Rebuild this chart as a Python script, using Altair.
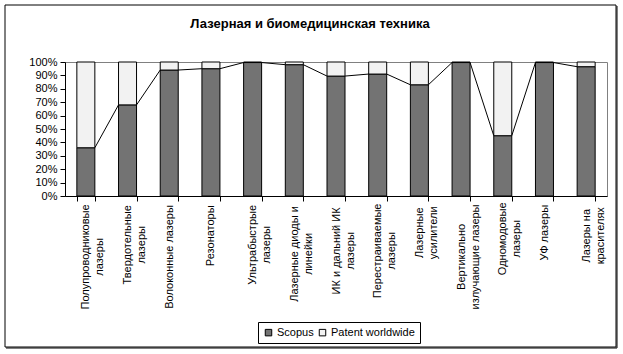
import altair as alt
import pandas as pd

# ---------------- data ----------------
categories = [
    "Полупроводниковые|лазеры",
    "Твердотельные|лазеры",
    "Волоконные лазеры",
    "Резонаторы",
    "Ультрабыстрые|лазеры",
    "Лазерные диоды и|линейки",
    "ИК и дальний ИК|лазеры",
    "Перестраиваемые|лазеры",
    "Лазерные|усилители",
    "Вертикально|излучающие лазеры",
    "Одномодовые|лазеры",
    "УФ лазеры",
    "Лазеры на|красителях",
]
scopus = [36, 68, 94, 95, 99.6, 98, 89.5, 91, 83, 99.6, 45, 99.6, 96.5]
patent = [64, 32, 6, 5, 0.4, 2, 10.5, 9, 17, 0.4, 55, 0.4, 3.5]
series = ["Scopus", "Patent worldwide"]
y_ticks = [round(i / 10, 1) for i in range(11)]
title_text = "Лазерная и биомедицинская техника"

# ---------------- tables ----------------
rows = []
for i, c in enumerate(categories):
    rows.append({"cat": c, "src": series[0], "val": scopus[i], "ord": 0})
    rows.append({"cat": c, "src": series[1], "val": patent[i], "ord": 1})
bars_df = pd.DataFrame(rows)

share = [s / (s + p) for s, p in zip(scopus, patent)]
lines_df = pd.DataFrame({
    "cat": categories[:-1],
    "nxt": categories[1:],
    "v": share[:-1],
    "nv": share[1:],
})

# ---------------- styles ----------------
FONT = "Liberation Sans"
W, H = 542, 134
BAR = 18
step = W / len(categories)
p_in = 1 - BAR / step
GRAY = "#737373"
LIGHT = "#f2f2f2"

xscale = alt.Scale(domain=categories, paddingInner=p_in, paddingOuter=p_in / 2)
yscale = alt.Scale(domain=[0, 1])

pad_cond = [
    {"test": f"datum.value === '{c}'",
     "value": 4 + max(len(s) for s in c.split("|")) * 6.05 / 2}
    for c in categories
]

xaxis = alt.Axis(
    title=None, labelAngle=270, labelAlign="center", labelBaseline="middle",
    labelExpr="split(datum.label, '|')", labelFont=FONT, labelFontSize=11,
    labelColor="black", labelLineHeight=14,
    labelPadding={"condition": pad_cond, "value": 30},
    tickBand="extent", tickSize=5, tickColor="black", domainColor="black",
    labelOverlap=False, grid=False,
)
yaxis = alt.Axis(
    title=None, format=".0%", values=y_ticks, tickSize=5, labelPadding=3,
    tickColor="black", domainColor="black", labelFont=FONT, labelFontSize=11,
    labelColor="black", grid=False,
)

bars = alt.Chart(bars_df).mark_bar(stroke="black", strokeWidth=1).encode(
    x=alt.X("cat:N", scale=xscale, axis=xaxis),
    y=alt.Y("val:Q", stack="normalize", scale=yscale, axis=yaxis),
    color=alt.Color(
        "src:N",
        scale=alt.Scale(domain=series, range=[GRAY, LIGHT]),
        legend=alt.Legend(
            title=None, orient="none", legendX=193, legendY=260,
            direction="horizontal", strokeColor="black", padding=5,
            symbolType="square", symbolSize=42, symbolStrokeColor="black",
            symbolStrokeWidth=1, labelFont=FONT, labelFontSize=11,
            labelColor="black", columnPadding=3, labelOffset=3,
            fillColor="white",
        ),
    ),
    order=alt.Order("ord:Q"),
)

lines = alt.Chart(lines_df).mark_rule(color="black", strokeWidth=1).encode(
    x=alt.X("cat:N", scale=xscale, axis=xaxis, bandPosition=1),
    x2=alt.X2("nxt", bandPosition=0),
    y=alt.Y("v:Q", scale=yscale, axis=yaxis),
    y2="nv",
)

one = alt.Data(values=[{"k": 1}])
frame = alt.Chart(one).mark_rect(fillOpacity=0, stroke="black", strokeWidth=1).encode(
    x=alt.value(-60), x2=alt.value(551), y=alt.value(-57), y2=alt.value(285)
)
shadow_r = alt.Chart(one).mark_rule(color="black", strokeWidth=1).encode(
    x=alt.value(552), y=alt.value(-56), y2=alt.value(286)
)
shadow_b = alt.Chart(one).mark_rule(color="black", strokeWidth=1).encode(
    x=alt.value(-59), x2=alt.value(552), y=alt.value(286)
)

chart = alt.layer(frame, shadow_r, shadow_b, bars, lines).properties(
    width=W, height=H,
    title=alt.TitleParams(title_text, font=FONT, fontSize=13, fontWeight="bold",
                          color="black", anchor="middle", frame="group",
                          dx=-26, offset=-26),
    padding={"left": 65, "top": 62, "right": 16, "bottom": 158},
    autosize=alt.AutoSizeParams(type="none"),
).configure_view(stroke="#808080")

chart.save("out.html", embed_options={"renderer": "svg", "actions": False})
